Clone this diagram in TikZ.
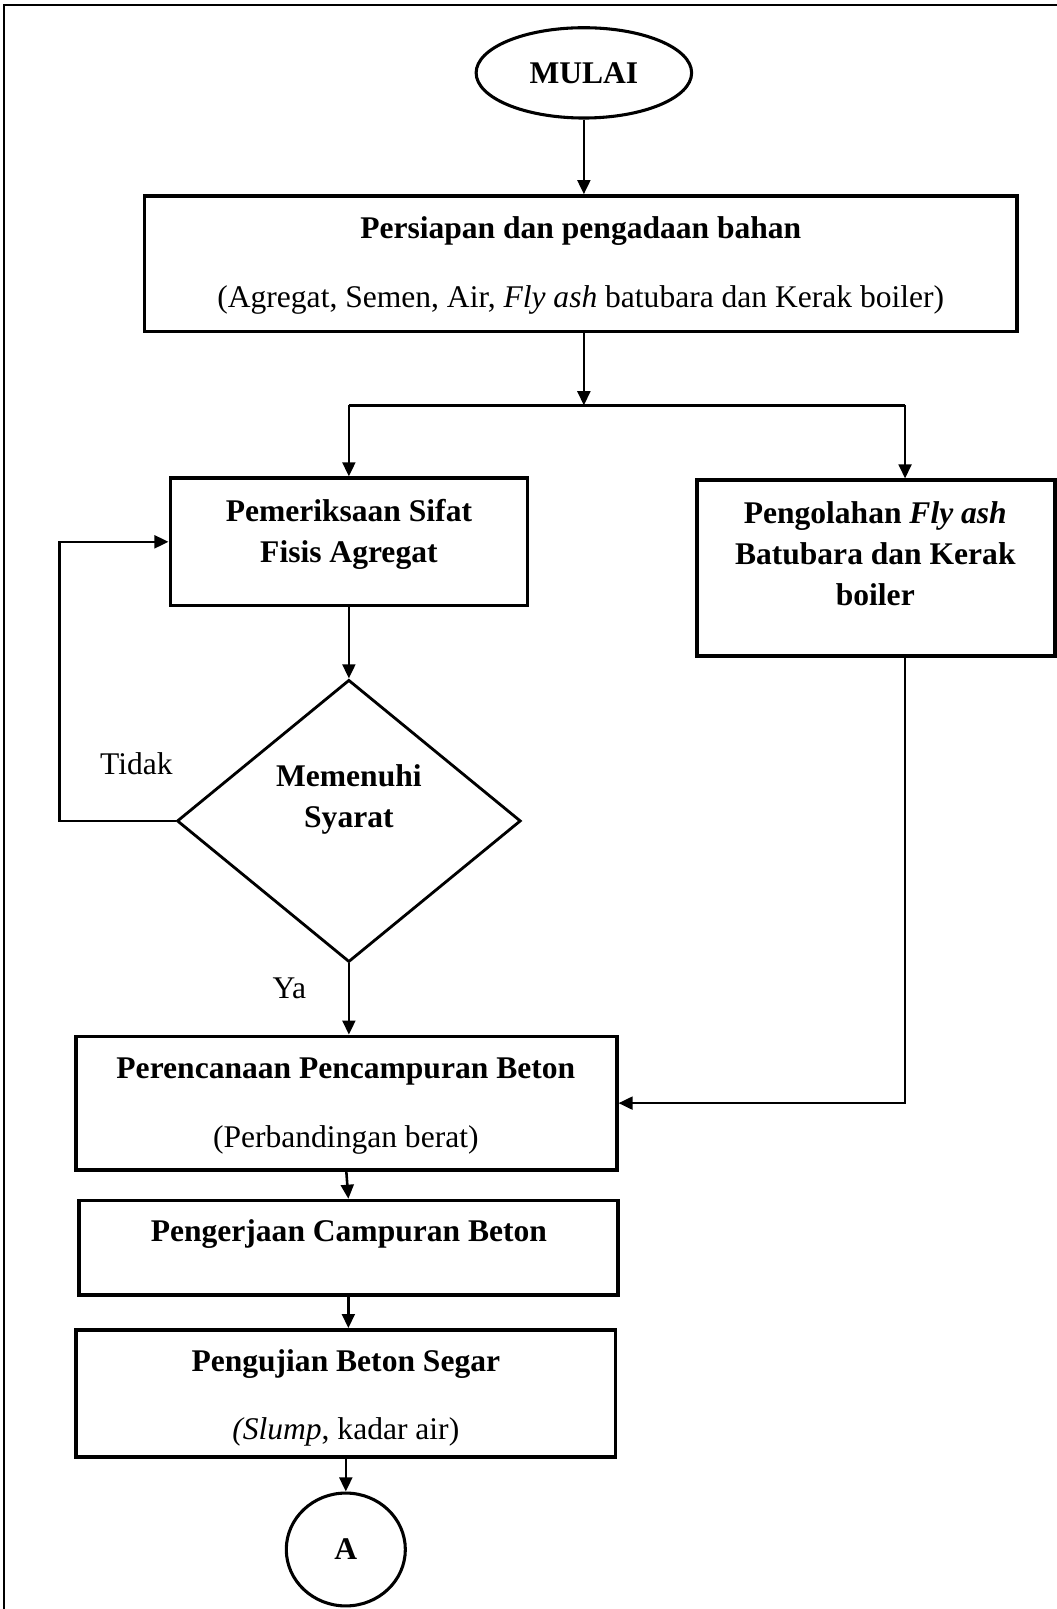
\documentclass[tikz,border=0pt]{standalone}
\usepackage{fontspec}
\setmainfont{Liberation Serif}
\usetikzlibrary{arrows.meta,shapes.geometric}
\begin{document}
\begin{tikzpicture}[x=0.4pt,y=-0.4pt,
 box/.style={draw,line width=1.4pt,rectangle,inner sep=0pt},
 term/.style={draw,line width=1.2pt,ellipse,inner sep=0pt,font=\fontsize{12.3}{14}\selectfont\bfseries},
 dec/.style={draw,line width=1.1pt,diamond,inner sep=0pt},
 txt/.style={inner sep=0pt,anchor=base,font=\fontsize{12.3}{14}\selectfont},
 btxt/.style={txt,font=\fontsize{12.3}{14}\selectfont\bfseries},
 con/.style={line width=1pt},
 arr/.style={con,-{Triangle[length=5.5pt,width=5pt]}}]
\useasboundingbox (0,0) rectangle (1030,1568);
\draw[line width=0.7pt] (4,1568) -- (4,5) -- (1030,5);

% start
\node[term,minimum width=84pt,minimum height=35.2pt] (start) at (569,71) {MULAI};

% box 1
\node[box,minimum width=340pt,minimum height=52.8pt] (b1) at (566,257) {};
\node[btxt] (b1a) at (566,232) {Persiapan dan pengadaan bahan};
\node[txt] (b1b) at (566,300) {(Agregat, Semen, Air, \textit{Fly ash} batubara dan Kerak boiler)};

% junction
\coordinate (j) at (569,395);
\coordinate (jl) at (340,395);
\coordinate (jr) at (882,395);

% box 2
\node[box,minimum width=139.2pt,minimum height=49.6pt] (b2) at (340,528) {};
\node[btxt] (b2a) at (340,508) {Pemeriksaan Sifat};
\node[btxt] (b2b) at (340,548) {Fisis Agregat};

% box 3
\node[box,minimum width=139.6pt,minimum height=68.4pt] (b3) at (853.5,553.5) {};
\node[btxt] (b3a) at (853,510) {Pengolahan \textit{Fly ash}};
\node[btxt] (b3b) at (853,550) {Batubara dan Kerak};
\node[btxt] (b3c) at (853,590) {boiler};

% decision
\node[dec,minimum width=134pt,minimum height=110pt] (d) at (340,800) {};
\node[btxt] (da) at (340,766) {Memenuhi};
\node[btxt] (db) at (340,806) {Syarat};
\coordinate (lp) at (58,528);
\node[txt] (tidak) at (133,755) {Tidak};
\node[txt] (ya) at (282,973) {Ya};

% box 4
\node[box,minimum width=210.8pt,minimum height=52pt] (b4) at (337.5,1075) {};
\node[btxt] (b4a) at (337,1051) {Perencanaan Pencampuran Beton};
\node[txt] (b4b) at (337,1118) {(Perbandingan berat)};

% box 5
\node[box,minimum width=210pt,minimum height=36.8pt] (b5) at (339.5,1216) {};
\node[btxt] (b5a) at (340,1210) {Pengerjaan Campuran Beton};

% box 6
\node[box,minimum width=210.4pt,minimum height=49.6pt] (b6) at (337,1358) {};
\node[btxt] (b6a) at (337,1336.6) {Pengujian Beton Segar};
\node[txt] (b6b) at (337,1403) {\textit{(Slump}, kadar air)};

% connector A
\node[term,minimum width=46.4pt,minimum height=44pt] (A) at (337,1510) {A};

% connectors
\draw[arr] (start.south) -- (start.south |- b1.north);
\draw[arr] (j |- b1.south) -- (j);
\draw[con] (jl) -- (jr);
\draw[arr] (jl) -- (jl |- b2.north);
\draw[arr] (jr) -- (jr |- b3.north);
\draw[arr] (b2.south) -- (d.north);
\draw[arr] (d.west) -| (lp) -- (b2.west);
\draw[arr] (d.south) -- (d.south |- b4.north);
\draw[arr] (jr |- b3.south) |- (b4.east);
\draw[arr] (b4.south) -- (b5.north);
\draw[arr] (b5.south) -- (b5.south |- b6.north);
\draw[arr] (b6.south) -- (A.north);
\end{tikzpicture}
\end{document}
